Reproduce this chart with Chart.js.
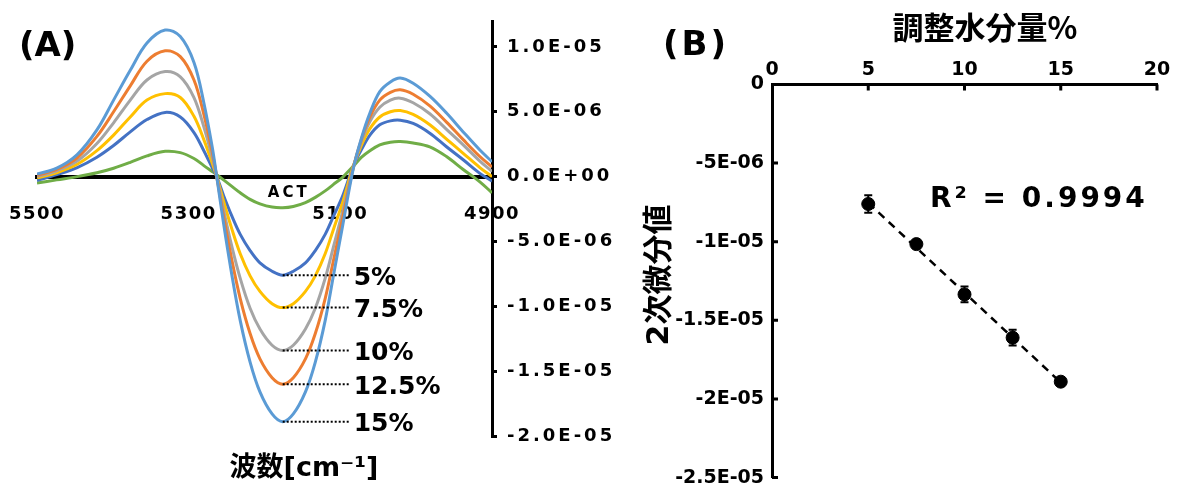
<!DOCTYPE html>
<html lang="ja">
<head>
<meta charset="UTF-8">
<title>2次微分スペクトルと調整水分量</title>
<script src="https://cdn.jsdelivr.net/npm/chart.js"></script>
<style>
  body { margin: 0; background: #fff; }
  #wrap { position: relative; width: 1177px; height: 497px; }
  canvas { position: absolute; top: 0; }
</style>
</head>
<body>
<div id="wrap">
  <canvas id="chartA" width="612" height="497" style="left:0"></canvas>
  <canvas id="chartB" width="565" height="497" style="left:612px"></canvas>
</div>
<script>
// ---- (A) 2次微分スペクトル, values in units of 1E-06 ----
const wavenumbers = [5500, 5474, 5447, 5421, 5399, 5377, 5355, 5331, 5311, 5293, 5280, 5269, 5263, 5254, 5243, 5232, 5219, 5206, 5190, 5176,
                     5162, 5146, 5133, 5120, 5109, 5097, 5083, 5072, 5061, 5048, 5034, 5021, 5004, 4982, 4960, 4938, 4916, 4900];
const water15  = [0.2, 0.65, 1.7, 3.6, 5.9, 8.2, 10.3, 11.3, 10.8, 8.8, 5.7, 2.3, 0, -3.6, -7.6, -11.1, -14.3, -16.6, -18.3, -18.9,
                  -18.3, -16.6, -14.3, -11.1, -7.6, -3.8, 0.6, 3.0, 4.9, 6.55, 7.3, 7.6, 7.2, 6.2, 4.9, 3.45, 2.05, 1.15];
const water125 = [0.1, 0.55, 1.45, 3.1, 5.0, 7.0, 8.9, 9.7, 9.25, 7.45, 4.8, 1.9, 0, -3.05, -6.45, -9.4, -12.1, -14.05, -15.5, -16.0,
                  -15.5, -14.05, -12.1, -9.4, -6.45, -3.2, 0.65, 2.9, 4.6, 5.9, 6.5, 6.7, 6.35, 5.45, 4.2, 2.85, 1.55, 0.75];
const water10  = [0.0, 0.45, 1.2, 2.55, 4.15, 5.9, 7.45, 8.1, 7.7, 6.1, 3.85, 1.5, 0, -2.55, -5.4, -7.85, -10.15, -11.75, -13.0, -13.4,
                  -13.0, -11.75, -10.15, -7.85, -5.4, -2.7, 0.7, 2.75, 4.25, 5.35, 5.9, 6.05, 5.7, 4.85, 3.65, 2.45, 1.2, 0.4];
const water75  = [-0.1, 0.3, 0.95, 2.0, 3.2, 4.6, 5.9, 6.4, 6.1, 4.65, 2.85, 1.05, 0, -1.9, -4.05, -5.95, -7.65, -8.85, -9.8, -10.1,
                  -9.8, -8.85, -7.65, -5.95, -4.05, -2.0, 0.8, 2.45, 3.7, 4.6, 5.0, 5.1, 4.8, 4.0, 2.9, 1.8, 0.7, 0.0];
const water5   = [-0.3, 0.15, 0.7, 1.5, 2.4, 3.45, 4.4, 4.95, 4.6, 3.4, 2.0, 0.7, 0, -1.45, -3.05, -4.45, -5.7, -6.65, -7.3, -7.6,
                  -7.3, -6.65, -5.7, -4.45, -3.05, -1.5, 0.8, 2.1, 3.2, 4.0, 4.3, 4.35, 4.1, 3.35, 2.3, 1.3, 0.25, -0.35];
const act      = [-0.5, -0.25, 0.0, 0.3, 0.65, 1.1, 1.6, 1.95, 1.85, 1.4, 0.85, 0.4, 0.15, -0.25, -0.75, -1.25, -1.75, -2.1, -2.35, -2.4,
                  -2.3, -2.0, -1.6, -1.1, -0.6, -0.05, 0.8, 1.5, 2.0, 2.45, 2.65, 2.7, 2.6, 2.3, 1.55, 0.55, -0.4, -1.25];

const seriesLabels = ['5%', '7.5%', '10%', '12.5%', '15%'];
const seriesValues = [water5, water75, water10, water125, water15];
const seriesColors = ['#4472C4', '#FFC000', '#A5A5A5', '#ED7D31', '#5B9BD5'];

const xTicksA = [5500, 5300, 5100, 4900];
const yTicksA = [10, 5, 0, -5, -10, -15, -20];
const yLabelsA = ['1.0E-05', '5.0E-06', '0.0E+00', '-5.0E-06', '-1.0E-05', '-1.5E-05', '-2.0E-05'];

// ---- (B) 調整水分量 vs 2次微分値, values in units of 1E-06 ----
const waterPct = [5, 7.5, 10, 12.5, 15];
const minValues = [-7.6, -10.15, -13.35, -16.1, -18.9];
const errValues = [0.55, 0.2, 0.5, 0.5, 0.2];
const trendX = [5, 15];
const trendY = [-7.53, -18.95];
const xTicksB = [0, 5, 10, 15, 20];
const yTicksB = [0, -5, -10, -15, -20, -25];
const yLabelsB = ['0', '-5E-06', '-1E-05', '-1.5E-05', '-2E-05', '-2.5E-05'];

const BOLD = '"DejaVu Sans", "Noto Sans CJK JP", sans-serif';
const JP = '"Noto Sans CJK JP", sans-serif';

// letter-spaced tick labels for one scale
function spacedLabels(scaleId, spacing) {
    return {
        id: 'spaced_' + scaleId,
        afterLayout(chart) {
            const s = chart.scales[scaleId];
            if (s._spaced) return;
            const orig = s.drawLabels.bind(s);
            s.drawLabels = area => {
                chart.ctx.save();
                chart.ctx.letterSpacing = spacing;
                orig(area);
                chart.ctx.restore();
            };
            s._spaced = true;
        }
    };
}

const annotateA = {
    id: 'annotateA',
    afterDraw(chart) {
        const { ctx, scales: { x, y } } = chart;
        ctx.save();
        ctx.fillStyle = '#000';
        ctx.strokeStyle = '#000';
        ctx.textBaseline = 'middle';
        ctx.textAlign = 'left';
        // dotted leaders from each minimum to its label
        seriesValues.forEach((vals, i) => {
            const minVal = Math.min(...vals);
            const px = x.getPixelForValue(wavenumbers[vals.indexOf(minVal)]);
            const py = y.getPixelForValue(minVal);
            ctx.setLineDash([2, 2]);
            ctx.lineWidth = 2;
            ctx.beginPath();
            ctx.moveTo(px, py);
            ctx.lineTo(px + 68, py);
            ctx.stroke();
            ctx.setLineDash([]);
            ctx.font = 'bold 25px ' + BOLD;
            ctx.fillText(seriesLabels[i], px + 71, py + 3);
        });
        // ACT label under the green minimum
        const actMin = Math.min(...act);
        ctx.save();
        ctx.letterSpacing = '3px';
        ctx.textAlign = 'center';
        ctx.font = 'bold 15px ' + BOLD;
        ctx.fillText('ACT', x.getPixelForValue(wavenumbers[act.indexOf(actMin)]) + 6, y.getPixelForValue(0) + 16);
        ctx.restore();
        // panel letter and axis title
        ctx.textAlign = 'left';
        ctx.font = 'bold 34px ' + BOLD;
        ctx.fillText('(A)', 19, 47);
        ctx.textAlign = 'center';
        ctx.font = 'bold 27px ' + BOLD;
        ctx.fillText('波数[cm⁻¹]', 304, 469);
        ctx.restore();
    }
};

const datasetsA = seriesValues.map((vals, i) => ({
    label: seriesLabels[i],
    data: wavenumbers.map((w, j) => ({ x: w, y: vals[j] })),
    borderColor: seriesColors[i],
    order: 5 - i
}));
datasetsA.push({
    label: 'ACT',
    data: wavenumbers.map((w, j) => ({ x: w, y: act[j] })),
    borderColor: '#70AD47',
    order: 6
});

new Chart(document.getElementById('chartA'), {
    type: 'line',
    data: { datasets: datasetsA },
    options: {
        responsive: false,
        animation: false,
        layout: { padding: { left: 37, top: 21, bottom: 61, right: 0 } },
        plugins: { legend: { display: false }, tooltip: { enabled: false } },
        elements: {
            point: { radius: 0 },
            line: { borderWidth: 3, tension: 0.35, fill: false }
        },
        scales: {
            x: {
                type: 'linear', reverse: true, min: 4900, max: 5500,
                position: { y: 0 },
                afterBuildTicks: s => { s.ticks = xTicksA.map(v => ({ value: v })); },
                afterFit: s => { s.paddingLeft = 0; s.paddingRight = 0; },
                grid: { display: false, drawTicks: false },
                border: { color: '#000', width: 4 },
                ticks: { color: '#000', font: { family: BOLD, weight: 'bold', size: 18 }, padding: 27, maxRotation: 0, autoSkip: false, callback: v => String(v) }
            },
            y: {
                type: 'linear', position: 'right', min: -20, max: 12,
                afterBuildTicks: s => { s.ticks = yTicksA.map(v => ({ value: v })); },
                afterFit: s => { s.width = 120; },
                grid: { drawOnChartArea: false, color: '#000', lineWidth: 3, tickLength: 5 },
                border: { color: '#000', width: 3 },
                ticks: { color: '#000', font: { family: BOLD, weight: 'bold', size: 18 }, padding: 10, callback: (v, i) => yLabelsA[i] }
            }
        }
    },
    plugins: [spacedLabels('y', '3px'), spacedLabels('x', '1.5px'), annotateA]
});

// ---- chart B ----
const annotateB = {
    id: 'annotateB',
    beforeDatasetsDraw(chart) {
        const { ctx, scales: { x, y } } = chart;
        ctx.save();
        ctx.strokeStyle = '#000';
        ctx.lineWidth = 2;
        waterPct.forEach((p, i) => {
            const px = x.getPixelForValue(p);
            const top = y.getPixelForValue(minValues[i] + errValues[i]);
            const bot = y.getPixelForValue(minValues[i] - errValues[i]);
            ctx.beginPath();
            ctx.moveTo(px, top); ctx.lineTo(px, bot);
            ctx.moveTo(px - 4, top); ctx.lineTo(px + 4, top);
            ctx.moveTo(px - 4, bot); ctx.lineTo(px + 4, bot);
            ctx.stroke();
        });
        ctx.restore();
    },
    afterDraw(chart) {
        const { ctx, scales: { x, y }, chartArea } = chart;
        ctx.save();
        ctx.strokeStyle = '#000';
        ctx.lineWidth = 3;
        // inward tick marks
        ctx.beginPath();
        yTicksB.slice(1).forEach(v => {
            const py = y.getPixelForValue(v);
            ctx.moveTo(chartArea.left, py); ctx.lineTo(chartArea.left + 6, py);
        });
        xTicksB.slice(1).forEach(v => {
            const px = x.getPixelForValue(v);
            ctx.moveTo(px, chartArea.top); ctx.lineTo(px, chartArea.top + 6);
        });
        ctx.stroke();
        ctx.fillStyle = '#000';
        ctx.textBaseline = 'middle';
        ctx.textAlign = 'left';
        ctx.save();
        ctx.letterSpacing = '3px';
        ctx.font = 'bold 34px ' + BOLD;
        ctx.fillText('(B)', 51, 46);
        ctx.restore();
        ctx.textAlign = 'center';
        ctx.font = 'bold 31px ' + JP;
        ctx.fillText('調整水分量%', 373, 27);
        ctx.save();
        ctx.translate(48, 275);
        ctx.rotate(-Math.PI / 2);
        ctx.font = 'bold 30px ' + BOLD;
        ctx.fillText('2次微分値', 0, 0);
        ctx.restore();
        ctx.textAlign = 'left';
        ctx.letterSpacing = '3px';
        ctx.font = 'bold 28px ' + BOLD;
        ctx.fillText('R² = 0.9994', 318, 200);
        ctx.restore();
    }
};

new Chart(document.getElementById('chartB'), {
    type: 'scatter',
    data: {
        datasets: [
            {
                type: 'line',
                data: trendX.map((v, i) => ({ x: v, y: trendY[i] })),
                borderColor: '#000', borderWidth: 2.5, borderDash: [8, 6],
                pointRadius: 0, fill: false
            },
            {
                data: waterPct.map((v, i) => ({ x: v, y: minValues[i] })),
                backgroundColor: '#000', borderColor: '#000', pointRadius: 6.5
            }
        ]
    },
    options: {
        responsive: false,
        animation: false,
        layout: { padding: { left: 0, top: 0, right: 20, bottom: 10 } },
        plugins: { legend: { display: false }, tooltip: { enabled: false } },
        scales: {
            x: {
                type: 'linear', position: 'top', min: 0, max: 20,
                afterBuildTicks: s => { s.ticks = xTicksB.map(v => ({ value: v })); },
                afterFit: s => { s.height = 84.5; },
                grid: { display: false, drawTicks: false },
                border: { color: '#000', width: 3 },
                ticks: { color: '#000', font: { family: BOLD, weight: 'bold', size: 19 }, padding: 3, maxRotation: 0 }
            },
            y: {
                type: 'linear', min: -25, max: 0,
                afterBuildTicks: s => { s.ticks = yTicksB.map(v => ({ value: v })); },
                afterFit: s => { s.width = 160; },
                grid: { display: false, drawTicks: false },
                border: { color: '#000', width: 3 },
                ticks: { color: '#000', font: { family: BOLD, weight: 'bold', size: 19 }, padding: 8, callback: (v, i) => yLabelsB[i] }
            }
        }
    },
    plugins: [annotateB]
});
</script>
</body>
</html>
